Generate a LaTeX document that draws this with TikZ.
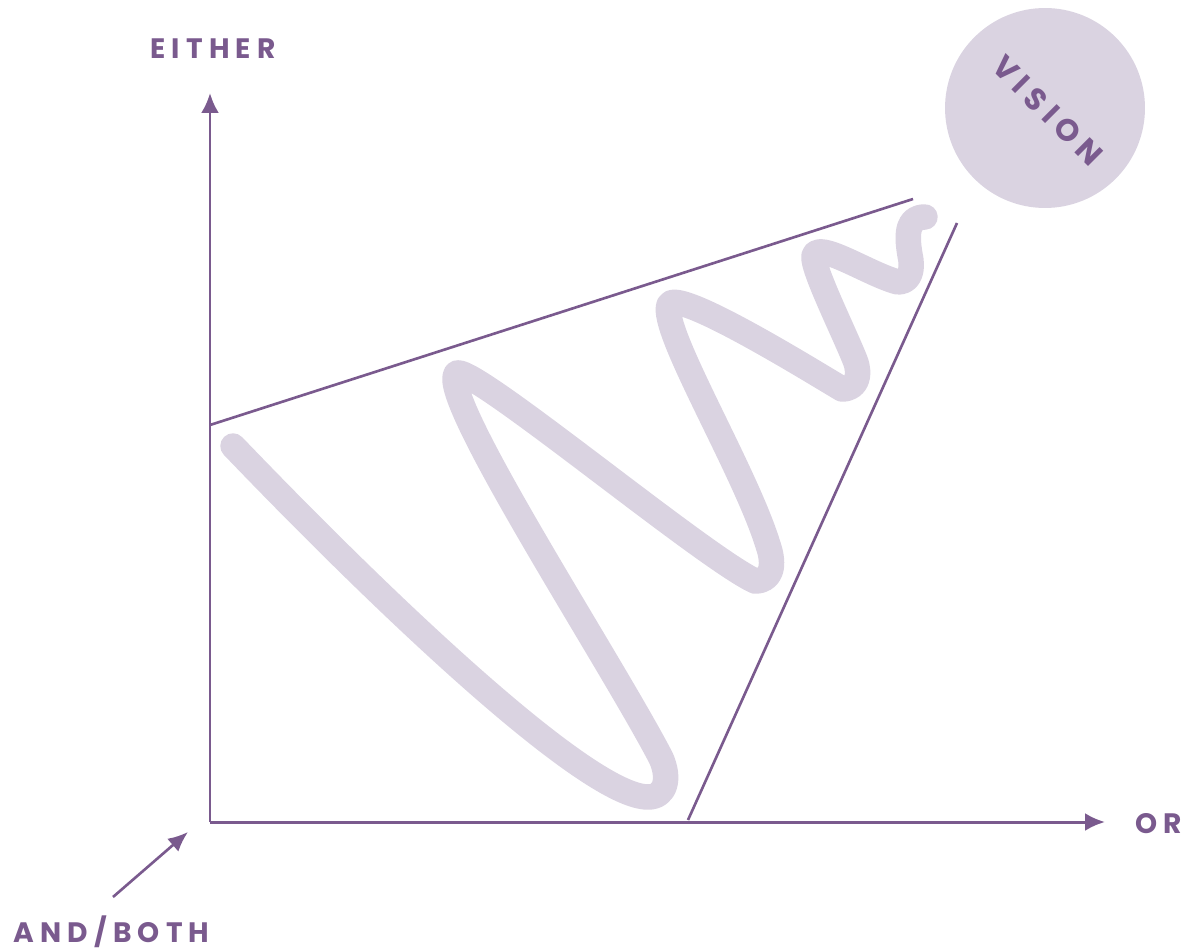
\documentclass[tikz,border=0pt]{standalone}
\usepackage{fontspec}
\setmainfont{Poppins}
\newfontfamily\axisfont[LetterSpace=22]{Poppins}
\usetikzlibrary{arrows.meta}
\definecolor{plum}{HTML}{7A5A8E}
\definecolor{plumlite}{HTML}{DAD3E1}

\begin{document}
\begin{tikzpicture}[x=0.02cm,y=-0.02cm,>={Latex[length=0.4cm,width=0.36cm]},
    axis/.style={draw=plum,line width=1.7pt},
    rim/.style={draw=plum,line width=1.5pt},
    wave/.style={draw=plumlite,line width=14.5pt,line cap=round,line join=round},
    label/.style={text=plum,inner sep=0pt,anchor=base west,font=\axisfont\bfseries\fontsize{16}{18}\selectfont}]
  \useasboundingbox (0,0) rectangle (1189,949);
  % axes
  \coordinate (o) at (210,822);
  \coordinate (ytip) at (210,93);
  \coordinate (xtip) at (1105,822);
  \draw[axis,->] (o) -- (ytip);
  \draw[axis,->] (o) -- (xtip);
  \node[label] (either) at (150,59) {EITHER};
  \node[label] (or) at (1135,833) {OR};
  \node[label] (andboth) at (13,942) {AND/BOTH};
  \coordinate (andtail) at (113,897);
  \coordinate (andtip) at (188,832);
  \draw[axis,line width=1.5pt,-{Latex[length=0.4cm,width=0.34cm]}] (andtail) -- (andtip);
  % the cone
  \draw[rim] (210,425) -- (913,199);
  \draw[rim] (688,820) -- (957,223);
  % the winding road
  \draw[wave] (233,446)
    .. controls (400,620) and (590,797) .. (648,797)
    .. controls (666,797) and (670,778) .. (661,758)
    .. controls (610,660) and (440,400) .. (456,374)
    .. controls (462,356) and (700,555) .. (755,581)
    .. controls (772,581) and (775,565) .. (768,545)
    .. controls (745,470) and (660,330) .. (669,305)
    .. controls (675,287) and (802,365) .. (842,389)
    .. controls (857,389) and (861,375) .. (855,360)
    .. controls (843,330) and (812,268) .. (814,256)
    .. controls (818,240) and (870,275) .. (898,282)
    .. controls (911,282) and (913,268) .. (910,255)
    .. controls (906,232) and (908,217) .. (925,217);
  % vision
  \node[circle,fill=plumlite,minimum size=4cm,inner sep=0pt,rotate=-45,text=plum,
        font=\axisfont\bfseries\fontsize{17.5}{20}\selectfont] (vision) at (1045,108) {VISION\kern-.22em};
\end{tikzpicture}
\end{document}
